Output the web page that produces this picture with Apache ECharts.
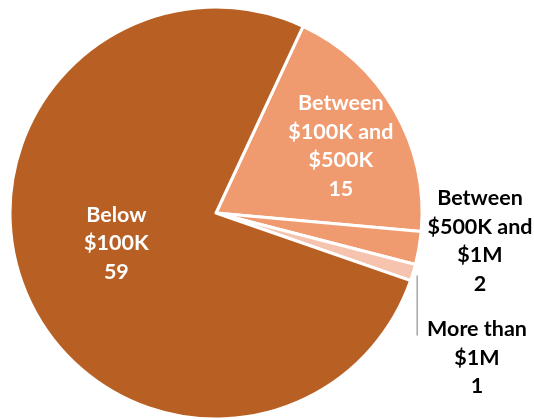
<!DOCTYPE html>
<html>
<head>
<meta charset="utf-8">
<script src="https://cdn.jsdelivr.net/npm/echarts@6/dist/echarts.min.js"></script>
<style>
html,body{margin:0;padding:0;background:#fff;}
#c{width:534px;height:419px;}
</style>
</head>
<body>
<div id="c"></div>
<script>
var categories = ['Between $100K and $500K', 'Between $500K and $1M', 'More than $1M', 'Below $100K'];
var labelTexts = ['Between\n$100K and\n$500K', 'Between\n$500K and\n$1M', 'More than\n$1M', 'Below\n$100K'];
var values = [15, 2, 1, 59];
var colors = ['#F09A70', '#F09A70', '#F5C3AE', '#B86024'];

var LINE_H = 28.5;
var chart = echarts.init(document.getElementById('c'), null, {renderer: 'canvas'});
var data = categories.map(function (name, i) {
  var item = {
    name: name,
    value: values[i],
    itemStyle: {color: colors[i]},
    label: {formatter: labelTexts[i] + '\n{c}'}
  };
  if (i === 0) {
    item.label.position = 'inside';
    item.label.color = '#ffffff';
    item.label.offset = [33, -14];
  } else if (i === 3) {
    item.label.position = 'inside';
    item.label.color = '#ffffff';
    item.label.offset = [-2, -11];
  } else {
    item.label.position = 'outside';
    item.label.color = '#000000';
    item.labelLine = {show: i === 2, lineStyle: {color: '#A6A6A6', width: 1.5}};
  }
  return item;
});
var outerPos = {1: [480, 241], 2: [477, 358]};
chart.setOption({
  animation: false,
  series: [{
    type: 'pie',
    center: [216, 213],
    radius: 206,
    startAngle: 65,
    clockwise: true,
    avoidLabelOverlap: false,
    itemStyle: {borderColor: '#ffffff', borderWidth: 3},
    label: {
      fontFamily: 'Lato',
      fontWeight: 'bold',
      fontSize: 21.5,
      lineHeight: LINE_H,
      align: 'center'
    },
    labelLine: {length: 10, length2: 10},
    labelLayout: function (p) {
      var pos = outerPos[p.dataIndex];
      if (pos) {
        var res = {x: pos[0], y: pos[1], align: 'center', verticalAlign: 'middle'};
        if (p.dataIndex === 2 && p.labelLinePoints) {
          var s = p.labelLinePoints[0];
          var lx = s[0] + 4;
          var endY = pos[1] - LINE_H + 6;
          res.labelLinePoints = [[lx, s[1] + 3], [lx, (s[1] + endY) / 2], [lx, endY]];
        }
        return res;
      }
    },
    data: data
  }]
});
</script>
</body>
</html>
